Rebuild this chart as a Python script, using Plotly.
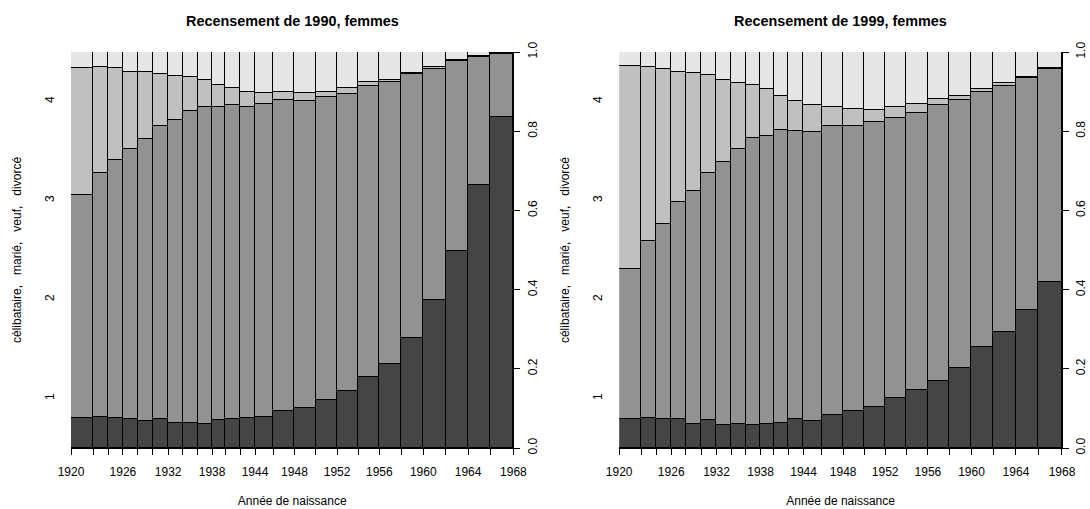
import plotly.graph_objects as go

# ---------------- data ----------------
bornes = [1920, 1922, 1924, 1926, 1928, 1930, 1932, 1934, 1936, 1938, 1940, 1942,
          1944, 1946, 1948, 1950, 1952, 1954, 1956, 1958, 1960, 1962, 1964, 1966, 1968]
etiquettes_x = ["1920", "", "", "1926", "", "", "1932", "", "", "1938", "", "",
                "1944", "", "1948", "", "1952", "", "1956", "", "1960", "", "1964", "", "1968"]

categories = ["célibataire", "marié", "veuf", "divorcé"]
etiquettes_y = ["1", "2", "3", "4"]

# relative size of each birth cohort (spine widths)
effectif_1990 = [22.3, 15.0, 14.7, 14.7, 15.0, 15.6, 14.7, 14.7, 14.6, 13.4, 14.6, 15.0,
                 18.0, 21.5, 21.4, 21.3, 21.0, 21.3, 21.7, 22.3, 22.4, 22.5, 22.2, 23.2]
effectif_1999 = [22.3, 15.0, 14.7, 14.7, 15.3, 15.3, 15.0, 14.4, 14.6, 13.4, 14.3, 15.3,
                 18.2, 21.3, 21.0, 21.0, 21.3, 21.4, 21.6, 22.0, 22.0, 22.4, 22.6, 23.4]

# percentages per cohort, 1990 census
celib_1990 = [7.7, 7.8, 7.5, 7.2, 6.8, 7.3, 6.2, 6.3, 6.0, 7.0, 7.2, 7.7,
              7.8, 9.3, 10.2, 12.0, 14.3, 17.9, 21.3, 27.8, 37.5, 49.8, 66.3, 83.7]
marie_1990 = [56.3, 61.7, 65.2, 68.4, 71.2, 73.9, 76.6, 78.7, 80.2, 79.0, 79.5, 78.3,
              79.0, 78.5, 77.5, 76.7, 75.2, 73.6, 71.1, 66.6, 58.3, 48.0, 32.4, 15.9]
veuf_1990 = [31.9, 26.7, 23.3, 19.4, 16.9, 13.3, 11.1, 8.7, 6.7, 5.6, 4.1, 3.9,
             2.9, 2.0, 1.9, 1.3, 1.3, 0.9, 0.6, 0.4, 0.3, 0.2, 0.2, 0.1]
divorce_1990 = [4.1, 3.8, 4.0, 5.0, 5.1, 5.5, 6.1, 6.3, 7.1, 8.4, 9.2, 10.1,
                10.3, 10.2, 10.4, 10.0, 9.2, 7.6, 7.0, 5.2, 3.9, 2.0, 1.1, 0.3]

# percentages per cohort, 1999 census
celib_1999 = [7.3, 7.6, 7.4, 7.3, 6.1, 7.0, 5.7, 6.1, 5.7, 6.1, 6.4, 7.2,
              6.8, 8.3, 9.3, 10.4, 12.6, 14.6, 16.9, 20.2, 25.5, 29.2, 34.8, 42.0]
marie_1999 = [38.0, 44.8, 49.2, 54.9, 58.9, 62.4, 66.5, 69.3, 72.7, 72.6, 74.0, 72.9,
              73.1, 72.9, 72.0, 71.9, 70.7, 70.1, 69.6, 67.6, 64.3, 62.3, 58.6, 53.7]
veuf_1999 = [51.1, 43.8, 39.1, 32.7, 29.8, 24.8, 20.7, 16.7, 13.3, 12.0, 8.6, 7.6,
             6.6, 4.8, 4.2, 3.1, 2.7, 2.2, 1.6, 1.1, 0.9, 0.7, 0.3, 0.3]
divorce_1999 = [3.6, 3.8, 4.3, 5.1, 5.2, 5.8, 7.1, 7.9, 8.3, 9.3, 11.0, 12.3,
                13.5, 14.0, 14.5, 14.6, 14.0, 13.1, 11.9, 11.1, 9.3, 7.8, 6.3, 4.0]

couleurs = ["#454545", "#929292", "#c0c0c0", "#e6e6e6"]

panneaux = [
    ("Recensement de 1990, femmes", effectif_1990,
     [celib_1990, marie_1990, veuf_1990, divorce_1990]),
    ("Recensement de 1999, femmes", effectif_1999,
     [celib_1999, marie_1999, veuf_1999, divorce_1999]),
]

FONT = "Liberation Sans, Arial, Helvetica, sans-serif"
fig = go.Figure()

# plot-area geometry (pixels in a 1090x509 page)
W, H = 1090, 509
ml, mr, mt, mb = 71, W - 1061.7, 51.7, H - 447.7
pw = W - ml - mr
dom_x = [[0, 442.3 / pw], [(619 - ml) / pw, 1]]

for k, (titre, effectif, series) in enumerate(panneaux):
    total = sum(effectif)
    bords = [0.0]
    for e in effectif:
        bords.append(bords[-1] + e / total)
    centres = [(bords[i] + bords[i + 1]) / 2 for i in range(len(effectif))]
    largeurs = [bords[i + 1] - bords[i] for i in range(len(effectif))]

    xa = "x" if k == 0 else "x2"
    ya = "y" if k == 0 else "y2"
    ya_lab = "y3" if k == 0 else "y4"

    for cat, vals, col in zip(categories, series, couleurs):
        fig.add_trace(go.Bar(
            x=centres, y=vals, width=largeurs, name=cat,
            marker=dict(color=col, line=dict(color="black", width=1)),
            xaxis=xa, yaxis=ya, showlegend=False,
        ))
    fig.add_trace(go.Scatter(x=[0], y=[0], mode="none", xaxis=xa, yaxis=ya_lab,
                             showlegend=False, hoverinfo="skip"))

    xkey = "xaxis" if k == 0 else "xaxis2"
    ykey = "yaxis" if k == 0 else "yaxis2"
    ylabkey = "yaxis3" if k == 0 else "yaxis4"

    fig.update_layout(**{
        xkey: dict(domain=dom_x[k], anchor=ya, range=[0, 1], automargin=False,
                   tickmode="array", tickvals=bords, ticktext=etiquettes_x,
                   ticks="outside", ticklen=6, tickcolor="black", tickwidth=1,
                   showline=True, linecolor="black", linewidth=1,
                   showgrid=False, zeroline=False, ticklabelstandoff=7,
                   tickfont=dict(size=12, color="black", family=FONT),
                   title=dict(text="Année de naissance", standoff=18,
                              font=dict(size=12, color="black", family=FONT))),
        ykey: dict(domain=[0, 1], anchor=xa, side="right", range=[0, 1],
                   automargin=False,
                   tickmode="array", tickvals=[0, 0.2, 0.4, 0.6, 0.8, 1.0],
                   ticktext=["0.0", "0.2", "0.4", "0.6", "0.8", "1.0"],
                   tickangle=-90, ticks="outside", ticklen=6, tickcolor="black",
                   showline=True, linecolor="black", linewidth=1,
                   showgrid=False, zeroline=False, ticklabelstandoff=2,
                   tickfont=dict(size=12, color="black", family=FONT)),
        ylabkey: dict(overlaying=ya, anchor=xa, side="left", range=[0, 1],
                      automargin=False,
                      tickmode="array", tickvals=[0.125, 0.375, 0.625, 0.875],
                      ticktext=etiquettes_y, tickangle=-90, ticks="",
                      showline=False, showgrid=False, zeroline=False,
                      ticklabelstandoff=14,
                      tickfont=dict(size=12, color="black", family=FONT),
                      title=dict(text="célibataire,\u00a0\u00a0 marié,\u00a0\u00a0 veuf,\u00a0\u00a0 divorcé",
                                 standoff=18,
                                 font=dict(size=12, color="black", family=FONT))),
    })

    fig.add_annotation(text="<b>" + titre + "</b>", xref=xa + " domain", x=0.5,
                       yref="paper", y=(H - mb - 21) / (H - mt - mb),
                       xanchor="center", yanchor="middle", showarrow=False,
                       font=dict(size=14.4, color="black", family=FONT))

fig.update_layout(
    width=W, height=H, barmode="stack", barnorm="fraction", bargap=0,
    margin=dict(l=ml, r=mr, t=mt, b=mb, pad=0, autoexpand=False),
    paper_bgcolor="white", plot_bgcolor="white",
    font=dict(family=FONT, color="black", size=12),
    showlegend=False,
)

fig.write_html(
    "out.html",
    config={"displayModeBar": False},
    post_script="document.body.style.margin='0px';document.body.style.overflow='hidden';",
)
